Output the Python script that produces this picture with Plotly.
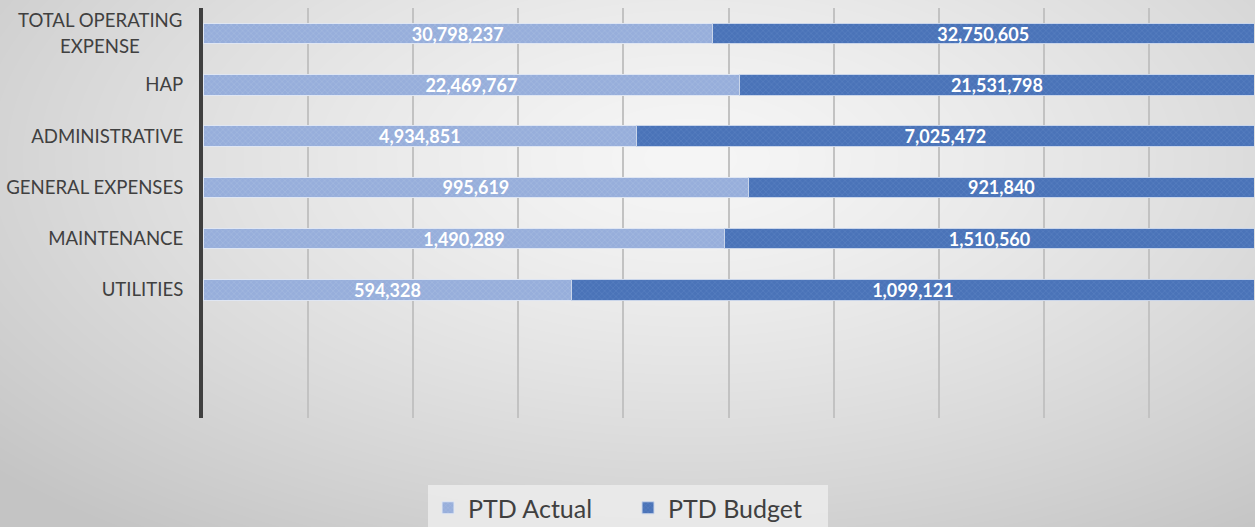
import base64, struct, zlib
import numpy as np
import plotly.graph_objects as go

categories = ["TOTAL OPERATING EXPENSE", "HAP", "ADMINISTRATIVE", "GENERAL EXPENSES", "MAINTENANCE", "UTILITIES"]
ptd_actual = [30798237, 22469767, 4934851, 995619, 1490289, 594328]
ptd_budget = [32750605, 21531798, 7025472, 921840, 1510560, 1099121]
empty_slots = ["  ", " "]

# bottom-to-top order for plotly
cat_order = empty_slots + categories[::-1]
tick_text = ["" if c == "TOTAL OPERATING EXPENSE" else c for c in cat_order]


def gradient_png(w, h):
    yy, xx = np.mgrid[0:h, 0:w].astype(float)
    cx, cy = 0.55 * w, 0.3 * h
    d = np.sqrt(((xx - cx) / (0.75 * w)) ** 2 + ((yy - cy) / (0.9 * h)) ** 2)
    d = np.clip(d, 0, 1)
    v = (246 - (246 - 196) * d ** 1.3).astype(np.uint8)
    raw = b"".join(b"\x00" + bytes(np.repeat(row, 3)) for row in v)
    def chunk(t, data):
        c = struct.pack(">I", len(data)) + t + data
        return c + struct.pack(">I", zlib.crc32(t + data) & 0xffffffff)
    png = b"\x89PNG\r\n\x1a\n" + chunk(b"IHDR", struct.pack(">IIBBBBB", w, h, 8, 2, 0, 0, 0))
    png += chunk(b"IDAT", zlib.compress(raw, 9)) + chunk(b"IEND", b"")
    return "data:image/png;base64," + base64.b64encode(png).decode()


W, H = 1255, 527
L, R, T, B = 203, 1, 8, 109
pw, ph = W - L - R, H - T - B
FONT = "Lato"
TICK_SIZE = 18.6

fig = go.Figure()
fig.add_trace(go.Bar(
    y=categories, x=ptd_actual, name="PTD Actual", orientation="h",
    text=[f"{v:,}" for v in ptd_actual], textposition="inside", insidetextanchor="middle",
    constraintext="none", textangle=0,
    textfont=dict(color="white", size=18, family=FONT, weight="bold"),
    marker=dict(color="#9fb4dc", line=dict(color="#dfe6f3", width=1),
                pattern=dict(shape="x", size=4, solidity=0.25, fgcolor="#b8c8e6", bgcolor="#97aedb", fillmode="overlay")),
))
fig.add_trace(go.Bar(
    y=categories, x=ptd_budget, name="PTD Budget", orientation="h",
    text=[f"{v:,}" for v in ptd_budget], textposition="inside", insidetextanchor="middle",
    constraintext="none", textangle=0,
    textfont=dict(color="white", size=18, family=FONT, weight="bold"),
    marker=dict(color="#4f78bd", line=dict(color="#c9d5ea", width=1),
                pattern=dict(shape="x", size=4, solidity=0.25, fgcolor="#6e92cc", bgcolor="#4a73b8", fillmode="overlay")),
))

# two-line centred label for the first category
fig.add_annotation(text="TOTAL OPERATING", xref="paper", yref="y", x=(100 - L) / pw,
                   y="TOTAL OPERATING EXPENSE", xanchor="center", yanchor="middle", yshift=14,
                   showarrow=False, font=dict(size=TICK_SIZE, color="#404040", family=FONT))
fig.add_annotation(text="EXPENSE", xref="paper", yref="y", x=(100 - L) / pw,
                   y="TOTAL OPERATING EXPENSE", xanchor="center", yanchor="middle", yshift=-12,
                   showarrow=False, font=dict(size=TICK_SIZE, color="#404040", family=FONT))

fig.update_layout(
    width=W, height=H,
    barmode="stack", barnorm="percent", bargap=0.6,
    margin=dict(l=L, r=R, t=T, b=B, autoexpand=False),
    paper_bgcolor="#dcdcdc", plot_bgcolor="rgba(0,0,0,0)",
    font=dict(family=FONT, color="#404040"),
    legend=dict(orientation="h", x=(628 - L) / pw, xanchor="center",
                y=-90 / ph, yanchor="middle", entrywidth=155,
                font=dict(size=25, color="#404040"), bgcolor="rgba(236,236,236,0.85)",
                traceorder="normal"),
    images=[dict(source=gradient_png(W, H), xref="paper", yref="paper",
                 x=-L / pw, y=1 + T / ph, sizex=W / pw, sizey=H / ph,
                 xanchor="left", yanchor="top", sizing="stretch", layer="below")],
)
fig.update_xaxes(range=[0, 100], dtick=10, showgrid=True, gridcolor="#c2c2c2", gridwidth=1.5,
                 showticklabels=False, zeroline=False, showline=False, fixedrange=True,
                 automargin=False)
fig.update_yaxes(categoryorder="array", categoryarray=cat_order, range=[-0.5, 7.5],
                 tickmode="array", tickvals=cat_order, ticktext=tick_text,
                 showline=True, linecolor="#404040", linewidth=4, ticks="",
                 tickfont=dict(size=TICK_SIZE, color="#404040", family=FONT), ticklabelstandoff=12,
                 showgrid=False, zeroline=False, automargin=False)

fig.write_html("out.html", config={"displayModeBar": False},
               post_script="document.body.style.margin='0';document.body.style.padding='0';")
